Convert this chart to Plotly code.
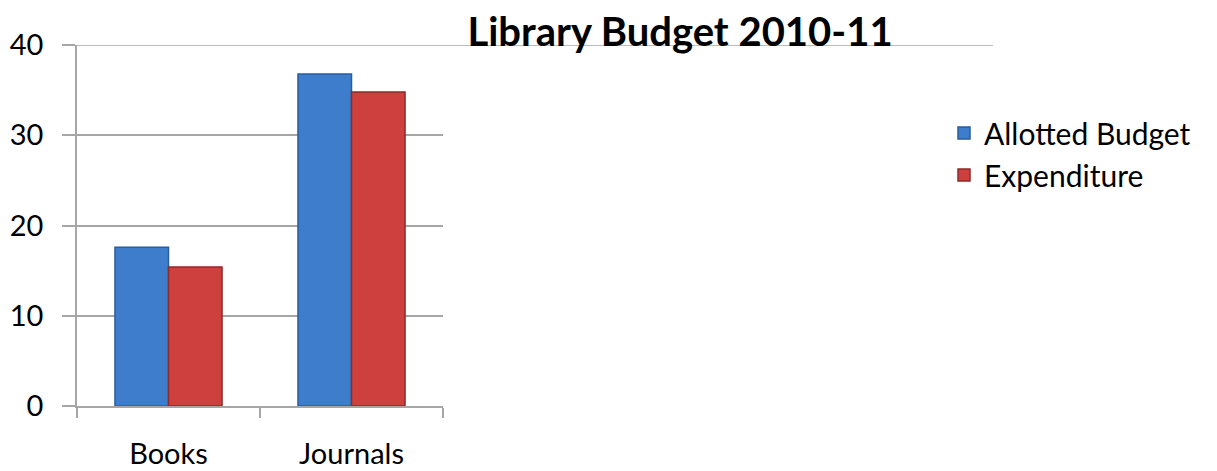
import plotly.graph_objects as go

categories = ["Books", "Journals"]
allotted_budget = [17.6, 36.8]
expenditure = [15.4, 34.8]
y_ticks = [0, 10, 20, 30, 40]

FONT = "Lato"
OFF = 8  # page body margin offset
W, H = 1217 - OFF, 471 - OFF
PL, PR, PT, PB = 77 - OFF, 443 - OFF, 45 - OFF, 406 - OFF
PW = PR - PL

fig = go.Figure()
fig.add_trace(go.Bar(
    x=categories, y=allotted_budget, name="Allotted Budget",
    marker=dict(color="#3D7DCC", line=dict(color="#2A5C9E", width=1.5)),
))
fig.add_trace(go.Bar(
    x=categories, y=expenditure, name="Expenditure",
    marker=dict(color="#CD403D", line=dict(color="#8E2A28", width=1.5)),
))

# long top rule at y=40 extending under the title
fig.add_shape(type="line", xref="paper", yref="y", x0=-13 / PW, x1=(993 - 77) / PW,
              y0=40, y1=40, line=dict(color="#A6A6A6", width=1.5), layer="below")

fig.update_layout(
    width=W, height=H,
    margin=dict(l=PL, r=W - PR, t=PT, b=H - PB, pad=0, autoexpand=False),
    paper_bgcolor="white", plot_bgcolor="white",
    barmode="group", bargap=0.415, bargroupgap=0,
    font=dict(family=FONT, color="black", size=30),
    title=dict(text="<b>Library Budget 2010-11</b>", x=(680 - OFF) / W, xanchor="center",
               xref="container", y=1 - (32 - OFF) / H, yanchor="middle", yref="container",
               font=dict(family=FONT, size=40, color="black")),
    legend=dict(xref="container", yref="container", x=(944 - OFF) / W, y=1 - (107 - OFF) / H,
                xanchor="left", yanchor="top", font=dict(family=FONT, size=30, color="black"),
                bgcolor="rgba(0,0,0,0)", itemwidth=30, tracegroupgap=0),
    showlegend=True,
)
fig.update_yaxes(range=[0, 40], tickvals=y_ticks, showgrid=True, gridcolor="#A6A6A6", gridwidth=1.5,
                 showline=True, linecolor="#A6A6A6", linewidth=1.5, ticks="outside", ticklen=13,
                 tickcolor="#A6A6A6", tickwidth=1.5, zeroline=False, ticklabelstandoff=13,
                 automargin=False, tickfont=dict(family=FONT, size=29, color="black"))
fig.update_xaxes(showline=True, linecolor="#A6A6A6", linewidth=1.5, ticks="outside", tickson="boundaries",
                 ticklen=10, tickcolor="#A6A6A6", tickwidth=1.5, showgrid=False, ticklabelstandoff=21,
                 automargin=False, tickfont=dict(family=FONT, size=29, color="black"))

fig.write_html("out.html")
